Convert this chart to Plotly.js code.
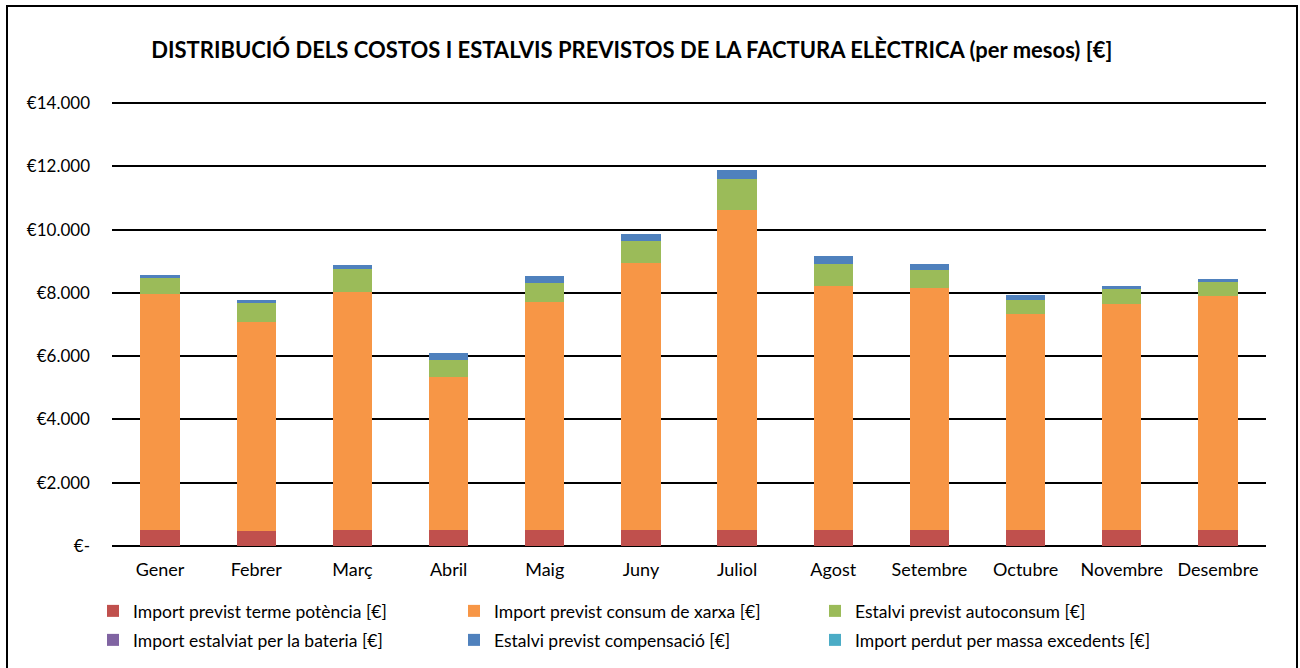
<!DOCTYPE html>
<html>
<head>
<meta charset="utf-8">
<script src="https://cdn.plot.ly/plotly-3.0.1.min.js"></script>
<style>
html,body{margin:0;padding:0;background:#fff;}
#wrap{position:relative;width:1300px;height:668px;}
#chart{position:absolute;left:0;top:0;width:1300px;height:668px;}
#frame{position:absolute;left:6px;top:5px;width:1288px;height:700px;border:2px solid #000;pointer-events:none;}
</style>
</head>
<body>
<div id="wrap"><div id="chart"></div><div id="frame"></div></div>
<script>
const months = ["Gener","Febrer","Març","Abril","Maig","Juny","Juliol","Agost","Setembre","Octubre","Novembre","Desembre"];
const termePotencia = [518,465,518,496,518,510,518,518,510,518,510,518];
const consumXarxa   = [7459,6627,7522,4858,7184,8425,10102,7699,7644,6827,7151,7383];
const autoconsum    = [506,579,705,537,601,695,970,696,569,430,474,433];
const bateria       = [0,0,0,0,0,0,0,0,0,0,0,0];
const compensacio   = [95,95,127,199,230,243,284,253,180,149,73,95];
const excedents     = [0,0,0,0,0,0,0,0,0,0,0,0];
const yTickVals = [0,2000,4000,6000,8000,10000,12000,14000];
const yTickText = ["€-","€2.000","€4.000","€6.000","€8.000","€10.000","€12.000","€14.000"];

const FONT = "Lato, 'Open Sans', sans-serif";

function bar(name, y, color, legend){
  return {type:"bar", name:name, x:months, y:y, legend:legend,
    marker:{color:color, line:{width:0}}, hoverinfo:"y+name"};
}
const data = [
  bar("Import previst terme potència [€]", termePotencia, "#C0504D", "legend"),
  bar("Import previst consum de xarxa [€]", consumXarxa, "#F79646", "legend"),
  bar("Estalvi previst autoconsum [€]", autoconsum, "#9BBB59", "legend"),
  bar("Import estalviat per la bateria [€]", bateria, "#8064A2", "legend2"),
  bar("Estalvi previst compensació [€]", compensacio, "#4F81BD", "legend2"),
  bar("Import perdut per massa excedents [€]", excedents, "#4BACC6", "legend2")
];

const legendCommon = {orientation:"h", xanchor:"left", yanchor:"middle",
  font:{family:FONT, size:17.5, color:"#000"}, entrywidth:316, entrywidthmode:"pixels",
  bgcolor:"rgba(0,0,0,0)", traceorder:"normal", itemclick:false};

const PH = 445; // plot height in px
const layout = {
  width:1300, height:668,
  paper_bgcolor:"#fff", plot_bgcolor:"#fff",
  margin:{l:112, r:34, t:101, b:122, autoexpand:false},
  barmode:"stack", bargap:0.59,
  font:{family:FONT, color:"#000"},
  title:{text:"<b>DISTRIBUCIÓ DELS COSTOS I ESTALVIS PREVISTOS DE LA FACTURA ELÈCTRICA (per mesos) [€]</b>",
    font:{family:FONT, size:22, color:"#000"}, x:0.486, xref:"container", xanchor:"center",
    y:1-50/668, yref:"container", yanchor:"middle"},
  xaxis:{type:"category", showgrid:false, showline:false, zeroline:false, ticks:"",
    tickfont:{family:FONT, size:18, color:"#000"}, ticklabelstandoff:11},
  yaxis:{range:[0,14000*PH/443], tickvals:yTickVals, ticktext:yTickText, showgrid:true,
    gridcolor:"#000", gridwidth:2, zeroline:true, zerolinecolor:"#000", zerolinewidth:2,
    showline:false, ticks:"", tickfont:{family:FONT, size:17, color:"#000"}, ticklabelstandoff:21},
  showlegend:true,
  legend:Object.assign({}, legendCommon, {x:-19/1154, y:-(611-546)/PH}),
  legend2:Object.assign({}, legendCommon, {x:-19/1154, y:-(640-546)/PH})
};

Plotly.newPlot("chart", data, layout, {displayModeBar:false, staticPlot:true});
</script>
</body>
</html>
